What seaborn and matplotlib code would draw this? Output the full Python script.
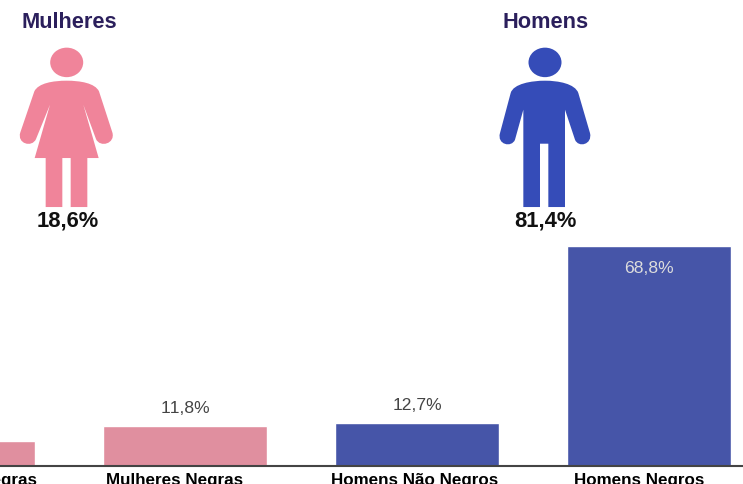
import matplotlib
matplotlib.use("Agg")
import matplotlib.pyplot as plt
import pandas as pd
import seaborn as sns
from matplotlib.patches import Ellipse, PathPatch
from matplotlib.path import Path

categories = ["Mulheres Não Negras", "Mulheres Negras", "Homens Não Negros", "Homens Negros"]
values = [6.8, 11.8, 12.7, 68.8]
value_labels = ["6,8%", "11,8%", "12,7%", "68,8%"]
bar_colors = ["#e08f9f", "#e08f9f", "#4655a8", "#4655a8"]
group_names = ["Mulheres", "Homens"]
group_shares = ["18,6%", "81,4%"]

sns.set_theme(style="white")
plt.rcParams["font.family"] = ["Liberation Sans", "DejaVu Sans"]
plt.rcParams["text.kerning_factor"] = 6

W, H = 743, 485
AXIS_FLOOR = -0.9
PX_PER_UNIT = 3.149
BASE_PX = 466.7
fig = plt.figure(figsize=(W / 100, H / 100), dpi=100, facecolor="white")
ax = fig.add_axes([0, (H - BASE_PX) / H, 1, BASE_PX / H])
df = pd.DataFrame({"cat": categories, "val": values})
sns.barplot(data=df, x="cat", y="val", hue="cat", palette=bar_colors, dodge=False,
            width=0.709, legend=False, saturation=1, ax=ax)
# the reference's bars run slightly below its zero, down to the axis line
for p in ax.patches:
    p.set_height(p.get_height() - AXIS_FLOOR)
    p.set_y(AXIS_FLOOR)
ax.set_xlabel("")
ax.set_ylabel("")
ax.set_yticks([])
for s in ["top", "left", "right"]:
    ax.spines[s].set_visible(False)
ax.spines["bottom"].set_color("#444444")
ax.spines["bottom"].set_linewidth(1.5)
ax.patch.set_alpha(0)

ax.set_xticks(range(len(categories)))
ax.set_xticklabels([""] * len(categories))
ax.tick_params(axis="x", length=0)
ax.set_xlim(0.2024, 0.2024 + W / 232)
ax.set_ylim(AXIS_FLOOR, AXIS_FLOOR + BASE_PX / PX_PER_UNIT)
label_shift_pt = [-2.5, -7.2, -1.8, -7.2]
for i, c in enumerate(categories):
    ax.annotate(c, (i, AXIS_FLOOR), xytext=(label_shift_pt[i], -4.4), textcoords="offset points",
                ha="center", va="top", fontsize=12.25, fontweight="bold", color="#000000",
                annotation_clip=False)
for i, (v, t) in enumerate(zip(values, value_labels)):
    if i == 0:
        continue
    inside = v > 40
    ax.annotate(t, (i, v), xytext=(0, -15.5 if inside else 13.2), textcoords="offset points",
                ha="center", va="center", fontsize=12.6,
                color="#dddddd" if inside else "#444444")

# overlay in reference pixel space for the two pictograms
ov = fig.add_axes([0, 0, 1, 1])
ov.set_xlim(0, W)
ov.set_ylim(H, 0)
ov.axis("off")

M, L, C = Path.MOVETO, Path.LINETO, Path.CURVE4
ICON_DY = 0.7


def shape(points, dx, color):
    verts, codes = [], []
    for code, p in points:
        verts.append((p[0] / 3 + dx, p[1] / 3 + ICON_DY))
        codes.append(code)
    ov.add_patch(PathPatch(Path(verts, codes), fc=color, ec="none"))


woman = [(M, (200, 243)), (C, (240, 243)), (C, (285, 250)), (C, (297, 275)),
         (L, (337, 398)), (C, (347, 432)), (C, (300, 445)), (C, (288, 418)),
         (L, (250, 315)), (L, (296, 475)), (L, (262, 475)), (L, (262, 622)),
         (L, (212, 622)), (L, (212, 475)), (L, (187, 475)), (L, (187, 622)),
         (L, (137, 622)), (L, (137, 475)), (L, (104, 475)), (L, (150, 315)),
         (L, (108, 418)), (C, (96, 445)), (C, (50, 432)), (C, (61, 398)),
         (L, (103, 275)), (C, (115, 250)), (C, (160, 243)), (C, (200, 243))]
man = [(M, (195, 243)), (C, (235, 243)), (C, (285, 252)), (C, (295, 280)),
       (L, (330, 400)), (C, (338, 435)), (C, (295, 445)), (C, (285, 420)),
       (L, (255, 330)), (L, (255, 622)), (L, (205, 622)), (L, (205, 432)),
       (L, (180, 432)), (L, (180, 622)), (L, (130, 622)), (L, (130, 330)),
       (L, (105, 420)), (C, (95, 445)), (C, (50, 435)), (C, (60, 400)),
       (L, (92, 280)), (C, (100, 252)), (C, (155, 243)), (C, (195, 243))]
shape(woman, 0, "#f0849a")
shape(man, 480, "#354cb8")
ov.add_patch(Ellipse((66.7, 62.7 + ICON_DY), 33, 29.5, fc="#f0849a", ec="none"))
ov.add_patch(Ellipse((545, 62.7 + ICON_DY), 33, 29.5, fc="#354cb8", ec="none"))

for name, share, xt, xs in zip(group_names, group_shares, [69.5, 546], [67.5, 545]):
    ov.text(xt, 23, name, ha="center", va="center", fontsize=15.7, fontweight="bold", color="#2b1f5c")
    ov.text(xs, 221.5, share, ha="center", va="center", fontsize=15.8, fontweight="bold", color="#111111")

fig.savefig("out.png", dpi=100, facecolor="white")
